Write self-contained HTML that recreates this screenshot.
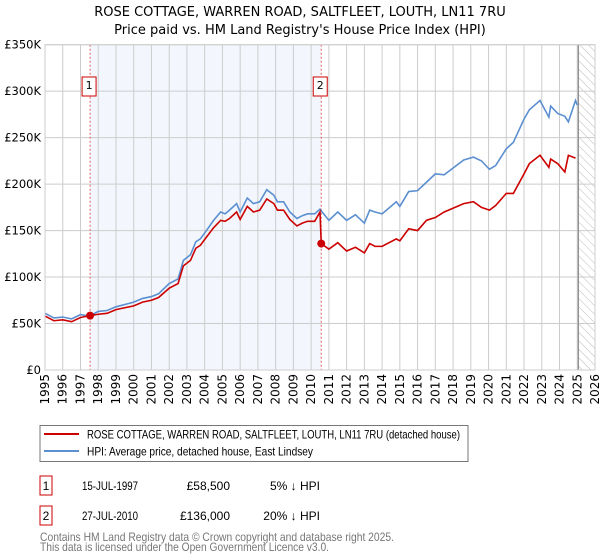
<!DOCTYPE html>
<html><head><meta charset="utf-8"><style>
body{margin:0;background:#fff;font-family:"Liberation Sans","DejaVu Sans",sans-serif}
svg{display:block}
</style></head><body>
<svg id="c" width="600" height="560" viewBox="0 0 600 560">
<defs><pattern id="hatch" width="6" height="6" patternUnits="userSpaceOnUse" patternTransform="rotate(-45)"><line x1="0" y1="0" x2="0" y2="6" stroke="#bbb" stroke-width="1"/></pattern></defs>
<text x="300" y="16" text-anchor="middle" font-size="13" font-family="DejaVu Sans,sans-serif">ROSE COTTAGE, WARREN ROAD, SALTFLEET, LOUTH, LN11 7RU</text>
<text x="300" y="34" text-anchor="middle" font-size="13" font-family="DejaVu Sans,sans-serif">Price paid vs. HM Land Registry's House Price Index (HPI)</text>
<g id="plot"></g>
<g>
<rect x="40" y="425.5" width="428" height="36" fill="#fff" stroke="#777"/>
<line x1="44" y1="434" x2="79" y2="434" stroke="#cc0000" stroke-width="2"/>
<text x="87" y="438.5" font-size="12" textLength="373" lengthAdjust="spacingAndGlyphs" font-family="Liberation Sans,sans-serif">ROSE COTTAGE, WARREN ROAD, SALTFLEET, LOUTH, LN11 7RU (detached house)</text>
<line x1="44" y1="451" x2="79" y2="451" stroke="#5b8fd0" stroke-width="2"/>
<text x="87" y="455.5" font-size="12" textLength="226" lengthAdjust="spacingAndGlyphs" font-family="Liberation Sans,sans-serif">HPI: Average price, detached house, East Lindsey</text>
</g>
<g font-size="12" font-family="Liberation Sans,sans-serif">
<rect x="40" y="476" width="12" height="19" fill="#fff" stroke="#cc0000"/>
<text x="46" y="490" text-anchor="middle">1</text>
<text x="82" y="490" textLength="56" lengthAdjust="spacingAndGlyphs">15-JUL-1997</text>
<text x="230" y="490" text-anchor="end">£58,500</text>
<text x="320" y="490" text-anchor="end">5% ↓ HPI</text>
<rect x="40" y="506" width="12" height="19" fill="#fff" stroke="#cc0000"/>
<text x="46" y="520" text-anchor="middle">2</text>
<text x="82" y="520" textLength="56" lengthAdjust="spacingAndGlyphs">27-JUL-2010</text>
<text x="230" y="520" text-anchor="end">£136,000</text>
<text x="320" y="520" text-anchor="end">20% ↓ HPI</text>
</g>
<text x="40" y="541" font-size="12" fill="#777" textLength="354" lengthAdjust="spacingAndGlyphs" font-family="Liberation Sans,sans-serif">Contains HM Land Registry data © Crown copyright and database right 2025.</text>
<text x="40" y="551" font-size="12" fill="#777" textLength="289" lengthAdjust="spacingAndGlyphs" font-family="Liberation Sans,sans-serif">This data is licensed under the Open Government Licence v3.0.</text>
</svg>
<script>
const hpiYears=[1995,1995.5,1996,1996.5,1997,1997.5,1998,1998.5,1999,2000,2000.5,2001,2001.4,2002,2002.5,2002.8,2003.2,2003.5,2003.75,2004.1,2004.5,2004.9,2005.15,2005.4,2005.8,2006,2006.4,2006.75,2007.1,2007.5,2007.9,2008.1,2008.45,2008.8,2009.2,2009.5,2009.8,2010.2,2010.5,2011,2011.5,2012,2012.5,2013,2013.3,2013.6,2014,2014.8,2015,2015.5,2016,2016.5,2017,2017.5,2018.6,2019.15,2019.6,2020.05,2020.4,2021,2021.4,2022,2022.3,2022.9,2023.4,2023.5,2023.9,2024.3,2024.5,2024.9,2025.0];
const hpiValues=[61,56,57,55,59.6,58,63,64,68,73,77,79,82,93,98,118,124,138,141,150,161,170,168,172,179,170,185,179,181,194,188,181,181,170,163,166,168,168,173,161,170,161,167,158,172,170,168,181,176,192,193,202,211,210,226,229,225,216,220,238,245,270,280,290,272,284,276,273,267,290,285];
const priceYears=[1995,1995.5,1996,1996.5,1997,1997.54,1998,1998.5,1999,2000,2000.5,2001,2001.4,2002,2002.5,2002.8,2003.2,2003.5,2003.75,2004.1,2004.5,2004.9,2005.15,2005.4,2005.8,2006,2006.4,2006.75,2007.1,2007.5,2007.9,2008.1,2008.45,2008.8,2009.2,2009.5,2009.8,2010.2,2010.5,2010.57,2011,2011.5,2012,2012.5,2013,2013.3,2013.6,2014,2014.8,2015,2015.5,2016,2016.5,2017,2017.5,2018.6,2019.15,2019.6,2020.05,2020.4,2021,2021.4,2022,2022.3,2022.9,2023.4,2023.5,2023.9,2024.3,2024.5,2024.9,2025.0];
const priceValues=[58,53,54,52,56.5,58.5,60,61,65,69,73,75,78,88,93,112,118,131,134,143,153,161,160,163,170,162,176,170,172,184,179,172,172,162,155,158,160,160,170,136,130,137,128,132,126,136,133,133,141,139,152,150,161,164,170,179,181,175,172,177,190,190,211,222,231,218,227,222,213,231,228];
const sales=[{year:1997.54,value:58.5,label:"1"},{year:2010.57,value:136,label:"2"}];
const yTicks=[0,50,100,150,200,250,300,350];
const yTickLabels=["£0","£50K","£100K","£150K","£200K","£250K","£300K","£350K"];
const xTicks=[1995,1996,1997,1998,1999,2000,2001,2002,2003,2004,2005,2006,2007,2008,2009,2010,2011,2012,2013,2014,2015,2016,2017,2018,2019,2020,2021,2022,2023,2024,2025,2026];
const dataEnd=2025.06;

const L=45,R=595,T=44.7,B=370;
const xs=y=>L+(y-1995)/(2026-1995)*(R-L);
const ys=v=>B-v/350*(B-T);
const NS="http://www.w3.org/2000/svg";
const g=document.getElementById('plot');
function mk(tag,attrs,parent){const e=document.createElementNS(NS,tag);for(const k in attrs)e.setAttribute(k,attrs[k]);(parent||g).appendChild(e);return e;}

const shade=mk('rect',{x:xs(sales[0].year),y:T,width:xs(sales[1].year)-xs(sales[0].year),height:B-T,fill:'#eef3fc',opacity:0.7});


const hat=mk('rect',{x:xs(dataEnd),y:T,width:R-xs(dataEnd),height:B-T,fill:'url(#hatch)'});



xTicks.forEach(t=>{
  const l=mk('line',{x1:xs(t),x2:xs(t),y1:T,y2:B,stroke:'#ccc','stroke-width':1});
  
  
  const tx=mk('text',{x:0,y:0,'font-size':12,'font-family':'DejaVu Sans,sans-serif','text-anchor':'end',transform:`translate(${xs(t)+4},${B+4}) rotate(-90)`});
  tx.textContent=t;
  
  
});
yTicks.forEach((t,i)=>{
  const l=mk('line',{x1:L,x2:R,y1:ys(t),y2:ys(t),stroke:'#ccc','stroke-width':1});
  
  
  const tx=mk('text',{x:L-4,y:ys(t)+4,'font-size':11.5,'font-family':'DejaVu Sans,sans-serif','text-anchor':'end'});
  tx.textContent=yTickLabels[i];
  
  
});
const endLine=mk('line',{x1:xs(dataEnd),x2:xs(dataEnd),y1:T,y2:B,stroke:'#888','stroke-width':1.2});



sales.forEach(s=>{
  const l=mk('line',{x1:xs(s.year),x2:xs(s.year),y1:T,y2:B,stroke:'#e06060','stroke-width':1,'stroke-dasharray':'2,2'});
  
  
});

const hp=mk('polyline',{points:hpiYears.map((y,i)=>xs(y)+','+ys(hpiValues[i])).join(' '),fill:'none',stroke:'#5b8fd0','stroke-width':1.6});


const pp=mk('polyline',{points:priceYears.map((y,i)=>xs(y)+','+ys(priceValues[i])).join(' '),fill:'none',stroke:'#cc0000','stroke-width':1.6});



sales.forEach(s=>{
  const c=mk('circle',{cx:xs(s.year),cy:ys(s.value),r:4,fill:'#cc0000'});
  
  
  const r=mk('rect',{x:xs(s.year)-8,y:77,width:14,height:19,fill:'#fff',stroke:'#cc0000'});
  
  
  const t=mk('text',{x:xs(s.year)-1,y:89,'font-size':11,'text-anchor':'middle','font-family':'DejaVu Sans,sans-serif'});
  t.textContent=s.label;
  
  
});
const border=mk('rect',{x:L,y:T,width:R-L,height:B-T,fill:'none',stroke:'#ccc'});


</script>
</body></html>
